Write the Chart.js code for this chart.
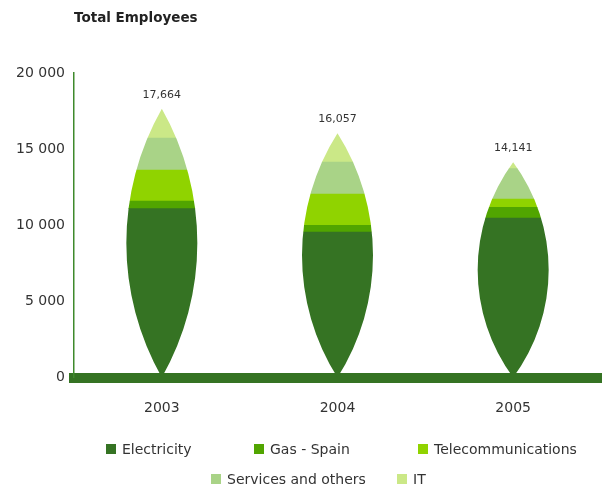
<!DOCTYPE html>
<html>
<head>
<meta charset="utf-8">
<script src="https://cdn.jsdelivr.net/npm/chart.js@4/dist/chart.umd.min.js"></script>
<style>
  html, body { margin: 0; padding: 0; background: #fff; }
  #wrap { position: relative; width: 606px; height: 488px; }
  #legend { position: absolute; left: 0; top: 0; width: 606px; height: 488px; pointer-events: none; }
  .li { position: absolute; display: flex; align-items: center; font: 14px "DejaVu Sans", sans-serif; color: #333; white-space: nowrap; }
  .li span.box { width: 10px; height: 10px; margin-right: 6px; display: inline-block; }
</style>
</head>
<body>
<div id="wrap">
  <canvas id="c" width="606" height="488"></canvas>
  <div id="legend"></div>
</div>
<script>
const categories = ['2003', '2004', '2005'];
const seriesNames = ['Electricity', 'Gas - Spain', 'Telecommunications', 'Services and others', 'IT'];
const electricity = [11100, 9560, 10480];
const gasSpain = [500, 440, 700];
const telecommunications = [2040, 2060, 550];
const servicesOthers = [2100, 2105, 2000];
const it = [1924, 1892, 411];
const totals = [17664, 16057, 14141];
const yTicks = [0, 5000, 10000, 15000, 20000];

const colors = ['#357323', '#51a500', '#90d300', '#a9d387', '#cbe887'];
const seriesValues = [electricity, gasSpain, telecommunications, servicesOthers, it];
const FONT = '"DejaVu Sans", sans-serif';

const lensPlugin = {
  id: 'lens',
  beforeDatasetsDraw(chart) {
    const ctx = chart.ctx, xs = chart.scales.x, ys = chart.scales.y;
    const s = 35.5;
    ctx.save();
    ctx.beginPath();
    totals.forEach((t, i) => {
      const cx = xs.getPixelForValue(i);
      const yb = ys.getPixelForValue(0);
      const yt = ys.getPixelForValue(t);
      const h2 = (yb - yt) / 2;
      const ym = (yb + yt) / 2;
      const R = (s * s + h2 * h2) / (2 * s);
      const a = Math.asin(h2 / R);
      ctx.moveTo(cx, yt);
      ctx.arc(cx + s - R, ym, R, -a, a, false);
      ctx.arc(cx - s + R, ym, R, Math.PI - a, Math.PI + a, false);
      ctx.closePath();
    });
    ctx.clip();
  },
  afterDatasetsDraw(chart) {
    const ctx = chart.ctx, xs = chart.scales.x, ys = chart.scales.y;
    ctx.restore();
    ctx.save();
    ctx.fillStyle = '#333';
    ctx.font = '11px ' + FONT;
    ctx.textAlign = 'center';
    ctx.textBaseline = 'middle';
    totals.forEach((t, i) => {
      ctx.fillText(t.toLocaleString('en-US'), xs.getPixelForValue(i), ys.getPixelForValue(t) - 14);
    });
    ctx.restore();
  }
};

const chart = new Chart(document.getElementById('c'), {
  type: 'bar',
  data: {
    labels: categories,
    datasets: seriesNames.map((n, k) => ({
      label: n,
      data: seriesValues[k],
      backgroundColor: colors[k],
      borderWidth: 0,
      barThickness: 80
    }))
  },
  options: {
    responsive: false,
    devicePixelRatio: 1,
    animation: false,
    layout: { padding: { top: 0, right: 5, bottom: 60.5, left: 0 } },
    plugins: {
      legend: { display: false },
      tooltip: { enabled: false },
      title: {
        display: true,
        text: 'Total Employees',
        align: 'start',
        fullSize: false,
        color: '#222',
        font: { family: FONT, size: 13.5, weight: 'bold' },
        padding: { top: 10, bottom: 47 }
      }
    },
    scales: {
      x: {
        stacked: true,
        grid: { display: false, drawTicks: false },
        border: { display: true, color: '#357323', width: 10 },
        ticks: { color: '#333', font: { family: FONT, size: 14 }, padding: 22 },
        afterFit: (sc) => { sc.height = 50; }
      },
      y: {
        stacked: true,
        min: 0,
        max: 20000,
        afterBuildTicks: (sc) => { sc.ticks = yTicks.map(v => ({ value: v })); },
        grid: { display: false, drawTicks: false },
        border: { display: true, color: '#3f8a2c', width: 1.5 },
        ticks: {
          color: '#333',
          font: { family: FONT, size: 14 },
          padding: 9,
          callback: (v) => String(v).replace(/\B(?=(\d{3})+(?!\d))/g, ' ')
        },
        afterFit: (sc) => { sc.width = 74; }
      }
    }
  },
  plugins: [lensPlugin]
});

const legendPos = [[106, 449], [254, 449], [418, 449], [211, 479], [397, 479]];
const leg = document.getElementById('legend');
chart.data.datasets.forEach((ds, k) => {
  const d = document.createElement('div');
  d.className = 'li';
  d.style.left = legendPos[k][0] + 'px';
  d.style.top = (legendPos[k][1] - 9) + 'px';
  d.style.height = '18px';
  const b = document.createElement('span');
  b.className = 'box';
  b.style.background = ds.backgroundColor;
  d.appendChild(b);
  d.appendChild(document.createTextNode(ds.label));
  leg.appendChild(d);
});
</script>
</body>
</html>
